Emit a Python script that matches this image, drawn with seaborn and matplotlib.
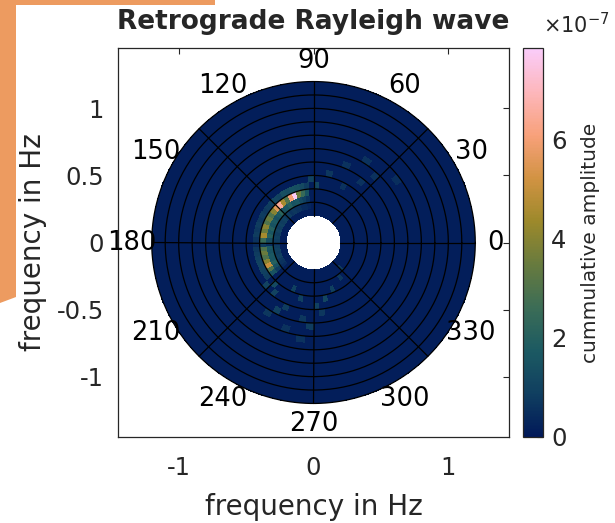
import numpy as np
import matplotlib
matplotlib.use("Agg")
import matplotlib.pyplot as plt
import seaborn as sns
from matplotlib.patches import Polygon
from matplotlib.ticker import FormatStrFormatter

# ---------------- data (amplitudes in units of 1e-7) ----------------
background_amp = 0.15

# bright arc, angular bin centres in degrees (5 deg bins)
arc_theta = [97.5, 102.5, 107.5, 112.5, 117.5, 122.5, 127.5, 132.5, 137.5, 142.5,
             147.5, 152.5, 157.5, 162.5, 167.5, 172.5, 177.5, 182.5, 187.5, 192.5,
             197.5, 202.5, 207.5, 212.5, 217.5]
arc_amp_r275 = [0.3, 0.4, 0.4, 0.6, 0.6, 0.7, 0.6, 0.8, 0.7, 0.9,
                0.8, 0.9, 0.8, 1.0, 0.8, 0.9, 0.8, 0.4, 0.8, 0.9,
                0.8, 0.9, 0.7, 0.6, 0.4]
arc_amp_r325 = [0.6, 0.9, 1.2, 1.6, 1.5, 2.0, 1.6, 1.5, 2.2, 1.7,
                1.4, 1.7, 1.5, 2.0, 1.6, 2.0, 1.3, 0.5, 1.7, 1.5,
                1.7, 1.6, 2.0, 1.4, 0.8]
arc_amp_r375 = [1.5, 2.5, 3.5, 7.8, 6.0, 3.0, 4.5, 6.5, 5.5, 4.0,
                3.0, 3.5, 3.0, 4.0, 3.5, 4.5, 2.5, 0.8, 3.0, 3.5,
                3.0, 4.0, 5.0, 3.0, 1.5]
arc_amp_r425 = [0.8, 1.2, 1.4, 1.5, 1.3, 1.4, 1.0, 1.1, 0.9, 0.8,
                0.7, 0.8, 0.7, 0.8, 0.7, 0.8, 0.6, 0.4, 0.7, 0.8,
                0.9, 1.0, 1.0, 0.9, 0.8]

# faint speckles elsewhere
speckle_theta = [232.5, 247.5, 262.5, 272.5, 282.5, 237.5, 252.5, 267.5, 257.5, 242.5,
                 277.5, 292.5, 307.5, 317.5, 67.5, 57.5, 47.5, 37.5, 77.5, 52.5,
                 62.5, 87.5, 92.5, 227.5, 222.5, 262.5, 247.5]
speckle_r = [0.475, 0.525, 0.575, 0.475, 0.425, 0.625, 0.675, 0.625, 0.425, 0.575,
             0.525, 0.375, 0.325, 0.275, 0.625, 0.725, 0.675, 0.775, 0.525, 0.575,
             0.475, 0.425, 0.475, 0.425, 0.475, 0.725, 0.375]
speckle_amp = [1.0, 0.8, 0.7, 0.9, 1.1, 0.7, 0.6, 0.8, 0.9, 0.9,
               0.7, 0.9, 0.7, 0.8, 0.6, 0.6, 0.6, 0.5, 0.7, 0.6,
               0.6, 1.1, 1.0, 1.2, 1.0, 0.6, 0.9]

amp_max = 7.85
ring_radii = [0.3, 0.4, 0.5, 0.6, 0.7, 0.8, 0.9, 1.0, 1.1, 1.2]
spoke_angles = [0, 45, 90, 135, 180, 225, 270, 315]
label_angles = [0, 30, 60, 90, 120, 150, 180, 210, 240, 270, 300, 330]
cbar_ticks = [0, 2, 4, 6]

# batlow-like colormap
batlow = ["#011959", "#103F60", "#1C5A62", "#3C6D56", "#687B3E",
          "#9D892B", "#D29343", "#F8A17B", "#FDB7BC", "#FACCFA"]

# ---------------- build polar grid ----------------
r_in, r_out, dr, dth = 0.2, 1.2, 0.05, 5
n_r = int(round((r_out - r_in) / dr))
n_th = 360 // dth
amp = np.full((n_r, n_th), background_amp)


def put(theta, r, a):
    amp[int((r - r_in) / dr), int(theta // dth)] = a


for t, a1, a2, a3, a4 in zip(arc_theta, arc_amp_r275, arc_amp_r325, arc_amp_r375, arc_amp_r425):
    put(t, 0.275, a1)
    put(t, 0.325, a2)
    put(t, 0.375, a3)
    put(t, 0.425, a4)
for t, r, a in zip(speckle_theta, speckle_r, speckle_amp):
    put(t, r, a)

fine = np.repeat(amp, dth, axis=1)
theta_edges = np.deg2rad(np.arange(0, 361, 1))
r_edges = np.linspace(r_in, r_out, n_r + 1)
T, R = np.meshgrid(theta_edges, r_edges)
X, Y = R * np.cos(T), R * np.sin(T)

# ---------------- plot ----------------
sns.set_theme(style="white")
plt.rcParams["font.family"] = ["DejaVu Sans"]
plt.rcParams["axes.unicode_minus"] = False

cmap = sns.blend_palette(batlow, as_cmap=True)
text_col = "#262626"

fig = plt.figure(figsize=(6.15, 5.23), dpi=100)
W, H = 615, 523
ax = fig.add_axes([118 / W, 1 - 437 / H, 391 / W, 389 / H])
cax = fig.add_axes([523 / W, 1 - 437 / H, 20 / W, 389 / H])

mesh = ax.pcolormesh(X, Y, fine, cmap=cmap, vmin=0, vmax=amp_max, shading="flat")

circ = np.linspace(0, 2 * np.pi, 400)
for r in ring_radii:
    ax.plot(r * np.cos(circ), r * np.sin(circ), color="black", lw=0.9)
for a in spoke_angles:
    rad = np.deg2rad(a)
    ax.plot([r_in * np.cos(rad), r_out * np.cos(rad)],
            [r_in * np.sin(rad), r_out * np.sin(rad)], color="black", lw=0.9)
for a in label_angles:
    rad = np.deg2rad(a)
    ax.text(1.35 * np.cos(rad), 1.35 * np.sin(rad), str(a), fontsize=18.5,
            ha="center", va="center", color="black", clip_on=False)

ax.set_xlim(-1.45, 1.45)
ax.set_ylim(-1.45, 1.45)
ax.set_xticks([-1, 0, 1])
ax.set_yticks([-1, -0.5, 0, 0.5, 1])
ax.xaxis.set_major_formatter(FormatStrFormatter("%g"))
ax.yaxis.set_major_formatter(FormatStrFormatter("%g"))
ax.tick_params(direction="in", length=4, width=0.8, top=True, right=True,
               labelsize=17.5, labelcolor=text_col, color=text_col)
ax.tick_params(axis="x", pad=14)
ax.tick_params(axis="y", pad=10)
for s in ax.spines.values():
    s.set_color(text_col)
    s.set_linewidth(0.9)
ax.set_xlabel("frequency in Hz", fontsize=20, color=text_col, labelpad=9)
ax.set_ylabel("frequency in Hz", fontsize=20, color=text_col, labelpad=7)
ax.set_title("Retrograde Rayleigh wave", fontsize=19, fontweight="bold", pad=14)

cb = fig.colorbar(mesh, cax=cax)
cb.set_ticks(cbar_ticks)
cb.ax.tick_params(direction="in", length=4, width=0.8, labelsize=17.5,
                  labelcolor=text_col, color=text_col, pad=6)
cb.outline.set_edgecolor(text_col)
cb.outline.set_linewidth(0.9)
cb.set_label("cummulative amplitude", fontsize=14.5, color=text_col, labelpad=10)
fig.text(543 / W, 1 - 33 / H, r"$\times\mathregular{10^{-7}}$", fontsize=15,
         color=text_col, ha="left", va="baseline")

# orange slide decoration
orange = "#ED9B60"
fig.add_artist(Polygon([(0, 1), (215 / W, 1), (215 / W, 1 - 5 / H), (0, 1 - 5 / H)],
                       closed=True, transform=fig.transFigure, facecolor=orange,
                       edgecolor="none"))
fig.add_artist(Polygon([(0, 1), (16 / W, 1), (16 / W, 1 - 297 / H), (0, 1 - 303 / H)],
                       closed=True, transform=fig.transFigure, facecolor=orange,
                       edgecolor="none"))

fig.savefig("out.png", dpi=100)
